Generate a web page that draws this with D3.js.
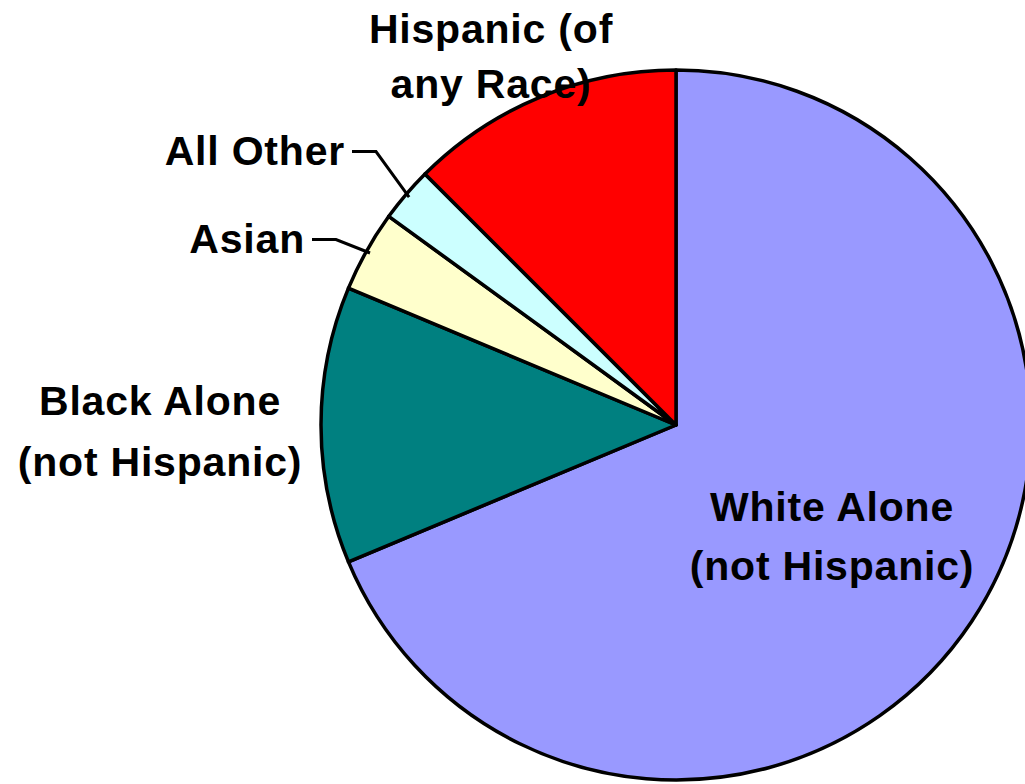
<!DOCTYPE html>
<html>
<head>
<meta charset="utf-8">
<script src="https://cdn.jsdelivr.net/npm/d3@7/dist/d3.min.js"></script>
<style>
  html, body { margin: 0; padding: 0; background: #ffffff; }
  svg { display: block; }
  text { font-family: "Liberation Sans", Arial, sans-serif; font-weight: bold; fill: #000; }
</style>
</head>
<body>
<svg id="chart" width="1025" height="784"></svg>
<script>
// Population shares by race / ethnicity (percent), clockwise from 12 o'clock
const categories = ["White Alone (not Hispanic)", "Black Alone (not Hispanic)", "Asian", "All Other", "Hispanic (of any Race)"];
const labelLines = [["White Alone", "(not Hispanic)"], ["Black Alone", "(not Hispanic)"], ["Asian"], ["All Other"], ["Hispanic (of", "any Race)"]];
const shares = [68.7, 12.6, 3.7, 2.5, 12.5];
const colors = ["#9999FF", "#008080", "#FFFFCC", "#CCFFFF", "#FF0000"];

// Layout
const cx = 676, cy = 425, radius = 355;
const fontSize = 41;
// label anchor, alignment and line spacing for each category
const labelLayout = [
  { x: 832, y: 521, anchor: "middle", lh: 59, leader: false },
  { x: 160, y: 415, anchor: "middle", lh: 61, leader: false },
  { x: 305, y: 253, anchor: "end", lh: 0, leader: true },
  { x: 345, y: 165, anchor: "end", lh: 0, leader: true },
  { x: 491, y: 43, anchor: "middle", lh: 55, leader: false }
];

const data = categories.map((c, i) => ({ name: c, value: shares[i], i }));

const svg = d3.select("#chart");
const g = svg.append("g").attr("transform", `translate(${cx},${cy})`);

const pie = d3.pie().value(d => d.value).sort(null).startAngle(0).endAngle(2 * Math.PI);
const arcs = pie(data);

const arc = d3.arc().innerRadius(0).outerRadius(radius);
const edgeArc = d3.arc().innerRadius(radius - 4).outerRadius(radius - 4);

g.selectAll("path.slice")
  .data(arcs)
  .join("path")
  .attr("class", "slice")
  .attr("d", arc)
  .attr("fill", d => colors[d.data.i])
  .attr("stroke", "#000")
  .attr("stroke-width", 3.5)
  .attr("stroke-linejoin", "round");

// Leader lines for the thin slices
const leaders = arcs.filter(d => labelLayout[d.data.i].leader);
svg.selectAll("polyline.leader")
  .data(leaders)
  .join("polyline")
  .attr("class", "leader")
  .attr("fill", "none")
  .attr("stroke", "#000")
  .attr("stroke-width", 3)
  .attr("points", d => {
    const L = labelLayout[d.data.i];
    const [ex, ey] = edgeArc.centroid(d);
    const y = L.y - 13.5;
    return [[L.x + 7, y], [L.x + 31, y], [cx + ex, cy + ey]].map(p => p.join(",")).join(" ");
  });

// Category labels
const labels = svg.selectAll("text.label")
  .data(data)
  .join("text")
  .attr("class", "label")
  .attr("font-size", fontSize)
  .attr("letter-spacing", 0.8)
  .attr("text-anchor", d => labelLayout[d.i].anchor);

labels.selectAll("tspan")
  .data(d => labelLines[d.i].map((t, k) => ({ t, k, L: labelLayout[d.i] })))
  .join("tspan")
  .attr("x", d => d.L.x)
  .attr("y", d => d.L.y + d.k * d.L.lh)
  .text(d => d.t);
</script>
</body>
</html>
